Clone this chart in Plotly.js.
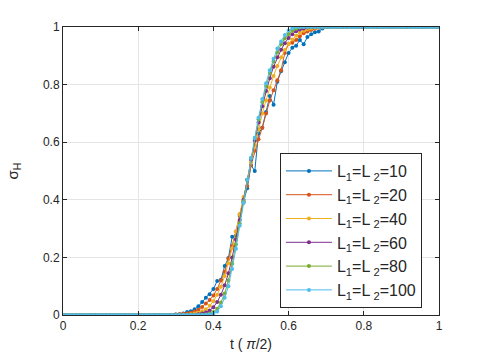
<!DOCTYPE html>
<html>
<head>
<meta charset="utf-8">
<script src="https://cdn.plot.ly/plotly-3.0.1.min.js"></script>
<style>
html,body{margin:0;padding:0;background:#fff;}
#chart{width:485px;height:364px;}
</style>
</head>
<body>
<div id="chart"></div>
<script>
// t values in units of pi/2 (0 to 1 step 0.01)
var tValues = [];
for (var i = 0; i <= 100; i++) { tValues.push(i / 100); }

var seriesNames = [
  "L<sub>1</sub>=L<sub> 2</sub>=10",
  "L<sub>1</sub>=L<sub> 2</sub>=20",
  "L<sub>1</sub>=L<sub> 2</sub>=40",
  "L<sub>1</sub>=L<sub> 2</sub>=60",
  "L<sub>1</sub>=L<sub> 2</sub>=80",
  "L<sub>1</sub>=L<sub> 2</sub>=100"
];

var sigmaL10 = [
  0,0,0,0,0,0,0,0,0,0, 0,0,0,0,0,0,0,0,0,0, 0,0,0,0,0,0,0,0,0,0,
  0.002,0.003,0.005,0.010,0.013,0.020,0.030,0.045,0.060,0.072,
  0.090,0.118,0.122,0.170,0.198,0.272,0.275,0.345,0.390,0.440,
  0.520,0.500,0.630,0.650,0.705,0.760,0.730,0.810,0.846,0.878,
  0.910,0.928,0.935,0.955,0.940,0.965,0.975,0.982,0.984,0.995,1,
  1,1,1,1,1,1,1,1,1,1, 1,1,1,1,1,1,1,1,1,1, 1,1,1,1,1,1,1,1,1,1
];
var sigmaL20 = [
  0,0,0,0,0,0,0,0,0,0, 0,0,0,0,0,0,0,0,0,0, 0,0,0,0,0,0,0,0,0,0,
  0.002,0.003,0.004,0.005,0.008,0.012,0.018,0.028,0.040,0.052,
  0.068,0.090,0.120,0.150,0.195,0.240,0.290,0.350,0.395,0.448,
  0.520,0.570,0.610,0.650,0.700,0.745,0.780,0.815,0.850,0.910,
  0.942,0.945,0.955,0.968,0.978,0.984,0.990,0.994,0.997,0.999,1,
  1,1,1,1,1,1,1,1,1,1, 1,1,1,1,1,1,1,1,1,1, 1,1,1,1,1,1,1,1,1,1
];
var sigmaL40 = [
  0,0,0,0,0,0,0,0,0,0, 0,0,0,0,0,0,0,0,0,0, 0,0,0,0,0,0,0,0,0,0,
  0,0,0.001,0.001,0.003,0.005,0.008,0.013,0.020,0.032,
  0.048,0.070,0.098,0.135,0.180,0.232,0.290,0.350,0.410,0.470,
  0.530,0.590,0.645,0.700,0.745,0.790,0.830,0.865,0.895,0.920,
  0.942,0.957,0.970,0.980,0.987,0.992,0.995,0.997,0.999,1,1,
  1,1,1,1,1,1,1,1,1,1, 1,1,1,1,1,1,1,1,1,1, 1,1,1,1,1,1,1,1,1,1
];
var sigmaL60 = [
  0,0,0,0,0,0,0,0,0,0, 0,0,0,0,0,0,0,0,0,0, 0,0,0,0,0,0,0,0,0,0,
  0,0,0,0,0,0.001,0.003,0.005,0.009,0.016,
  0.027,0.045,0.070,0.103,0.145,0.200,0.262,0.330,0.400,0.470,
  0.540,0.605,0.668,0.725,0.778,0.822,0.862,0.895,0.921,0.944,
  0.962,0.975,0.985,0.991,0.995,0.998,0.999,1,1,1,1,
  1,1,1,1,1,1,1,1,1,1, 1,1,1,1,1,1,1,1,1,1, 1,1,1,1,1,1,1,1,1,1
];
var sigmaL80 = [
  0,0,0,0,0,0,0,0,0,0, 0,0,0,0,0,0,0,0,0,0, 0,0,0,0,0,0,0,0,0,0,
  0,0,0,0,0,0,0,0.001,0.002,0.005,
  0.010,0.022,0.043,0.075,0.120,0.178,0.245,0.318,0.395,0.470,
  0.545,0.615,0.680,0.740,0.795,0.840,0.880,0.912,0.940,0.960,
  0.976,0.987,0.994,0.998,1,1,1,1,1,1,1,
  1,1,1,1,1,1,1,1,1,1, 1,1,1,1,1,1,1,1,1,1, 1,1,1,1,1,1,1,1,1,1
];
var sigmaL100 = [
  0,0,0,0,0,0,0,0,0,0, 0,0,0,0,0,0,0,0,0,0, 0,0,0,0,0,0,0,0,0,0,
  0,0,0,0,0,0,0,0,0.001,0.002,
  0.005,0.012,0.030,0.060,0.100,0.160,0.230,0.310,0.390,0.470,
  0.545,0.615,0.685,0.750,0.805,0.850,0.890,0.925,0.950,0.972,
  0.988,0.996,1,1,1,1,1,1,1,1,1,
  1,1,1,1,1,1,1,1,1,1, 1,1,1,1,1,1,1,1,1,1, 1,1,1,1,1,1,1,1,1,1
];

var seriesValues = [sigmaL10, sigmaL20, sigmaL40, sigmaL60, sigmaL80, sigmaL100];
var seriesColors = ["#0072BD", "#D95319", "#EDB120", "#7E2F8E", "#77AC30", "#4DBEEE"];

var xTickVals = [0, 0.2, 0.4, 0.6, 0.8, 1];
var xTickText = ["0", "0.2", "0.4", "0.6", "0.8", "1"];
var yTickVals = [0, 0.2, 0.4, 0.6, 0.8, 1];
var yTickText = ["0", "0.2", "0.4", "0.6", "0.8", "1"];

var traces = seriesValues.map(function (vals, k) {
  return {
    x: tValues,
    y: vals,
    type: "scatter",
    mode: "lines+markers",
    name: seriesNames[k],
    line: { color: seriesColors[k], width: 1 },
    marker: { color: seriesColors[k], size: 4 }
  };
});

var axisCommon = {
  showline: true,
  linecolor: "#262626",
  linewidth: 1,
  mirror: "ticks",
  ticks: "inside",
  ticklen: 4,
  tickcolor: "#262626",
  showgrid: true,
  gridcolor: "#e5e5e5",
  gridwidth: 1,
  zeroline: false,
  tickfont: { family: "Liberation Sans, Arial, sans-serif", size: 12, color: "#262626" }
};

var layout = {
  width: 485,
  height: 364,
  margin: { l: 63, r: 46, t: 27, b: 49 },
  paper_bgcolor: "#ffffff",
  plot_bgcolor: "#ffffff",
  font: { family: "Liberation Sans, Arial, sans-serif", size: 12, color: "#262626" },
  showlegend: true,
  xaxis: Object.assign({}, axisCommon, {
    range: [0, 1],
    tickvals: xTickVals,
    ticktext: xTickText,
    title: { text: "t ( <i>π</i>/2)", font: { size: 14, color: "#262626" }, standoff: 6 }
  }),
  yaxis: Object.assign({}, axisCommon, {
    range: [0, 1],
    tickvals: yTickVals,
    ticktext: yTickText,
    title: { text: "σ<sub>H</sub>", font: { size: 15, color: "#262626" }, standoff: 20 }
  }),
  legend: {
    x: 0.577,
    y: 0.5625,
    xanchor: "left",
    yanchor: "top",
    bgcolor: "#ffffff",
    bordercolor: "#262626",
    borderwidth: 1,
    itemwidth: 46,
    font: { size: 16, color: "#262626" },
    tracegroupgap: 0
  }
};

Plotly.newPlot("chart", traces, layout, { displayModeBar: false, staticPlot: true });
</script>
</body>
</html>
